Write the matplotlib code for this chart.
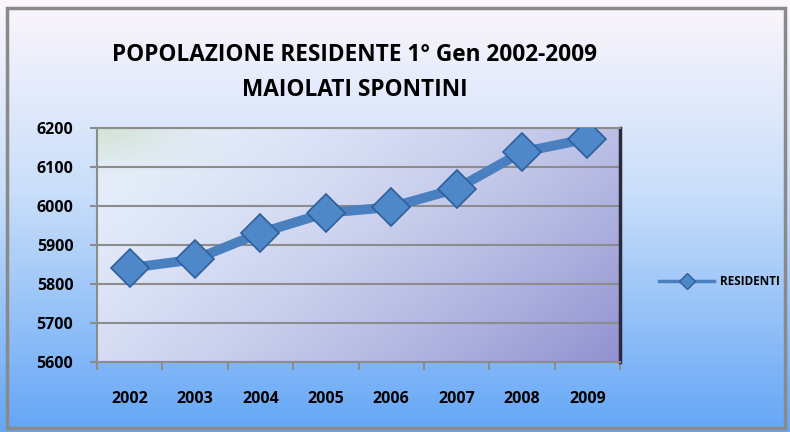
import numpy as np
import matplotlib.pyplot as plt
from matplotlib.patches import Rectangle

years = ["2002", "2003", "2004", "2005", "2006", "2007", "2008", "2009"]
residenti = [5841, 5863, 5931, 5982, 5997, 6044, 6138, 6172]
y_ticks = [5600, 5700, 5800, 5900, 6000, 6100, 6200]

plt.rcParams['font.family'] = ['Open Sans', 'DejaVu Sans']

fig = plt.figure(figsize=(7.9, 4.32), dpi=100)

# figure background gradient
bg = fig.add_axes([0, 0, 1, 1], zorder=-10)
t = np.linspace(0, 1, 200)[:, None]
top = np.array([252, 246, 252]) / 255
mid = np.array([200, 222, 250]) / 255
bot = np.array([100, 166, 246]) / 255
rows = np.where(t < 0.45, top + (mid - top) * (t / 0.45),
                mid + (bot - mid) * ((t - 0.45) / 0.55))
bg.imshow(rows[:, None, :].repeat(2, axis=1), aspect='auto', extent=[0, 1, 0, 1])
bg.add_patch(Rectangle((0.009, 0.01), 0.985, 0.972, fill=False,
                       edgecolor='#8a8a8a', lw=2.5, transform=bg.transAxes))
bg.set_xlim(0, 1)
bg.set_ylim(0, 1)
bg.axis('off')

ax = fig.add_axes([0.1228, 0.162, 0.662, 0.542])

# plot area gradient (diagonal, dark towards bottom right)
gx, gy = np.meshgrid(np.linspace(0, 1, 200), np.linspace(0, 1, 200))
d = np.clip((gx * 0.8 + gy * 0.45) / 1.25, 0, 1)
c0 = np.array([232, 240, 252]) / 255
c1 = np.array([145, 145, 208]) / 255
img = c0 + (c1 - c0) * (d[..., None] ** 1.5)
corner = np.exp(-(gx ** 2 + gy ** 2) / 0.02)[..., None]
img = img * (1 - 0.4 * corner) + np.array([185, 210, 165]) / 255 * 0.4 * corner
ax.imshow(img, aspect='auto', extent=[-0.5, 7.5, 5600, 6200], zorder=0)

x = np.arange(len(years))
ax.plot(x, residenti, color='#4a7fc0', lw=7, zorder=3, solid_capstyle='round')
ax.plot(x, residenti, ls='none', marker='D', ms=19, mfc='#4f88c8',
        mec='#2d5f9c', mew=1.2, zorder=4)

ax.set_xlim(-0.5, 7.5)
ax.set_ylim(5600, 6200)
ax.set_yticks(y_ticks)
ax.set_yticklabels([str(v) for v in y_ticks], fontsize=11.5, fontweight='bold')
ax.set_xticks(x)
ax.set_xticklabels(years, fontsize=11.5, fontweight='bold')
ax.set_xticks(np.arange(-0.5, 8, 1), minor=True)
ax.tick_params(axis='x', which='major', length=0, pad=21)
ax.tick_params(axis='x', which='minor', length=6, color='#8c8c8c', width=1.5)
ax.tick_params(axis='y', length=5, color='#8c8c8c', width=1.5, pad=12)
ax.grid(axis='y', color='#8c8c8c', lw=1.5, zorder=1)
ax.set_axisbelow(True)

for s in ['left', 'bottom', 'top']:
    ax.spines[s].set_color('#8c8c8c')
    ax.spines[s].set_linewidth(1.5)
ax.spines['right'].set_color('#2a2a3a')
ax.spines['right'].set_linewidth(2.5)

fig.text(0.449, 0.832, "POPOLAZIONE RESIDENTE 1° Gen 2002-2009\nMAIOLATI SPONTINI",
         ha='center', va='center', fontsize=16.3, fontweight='bold',
         linespacing=1.6)

# legend
ax.legend([plt.Line2D([], [], color='#4a7fc0', lw=2.5, marker='D', ms=8,
                      mfc='#4f88c8', mec='#2d5f9c')],
          ["RESIDENTI"], loc='center left', bbox_to_anchor=(1.055, 0.345),
          frameon=False, prop={'size': 8.5, 'weight': 'bold'},
          handlelength=4.6, handletextpad=0.5)

fig.savefig("out.png", dpi=100)
